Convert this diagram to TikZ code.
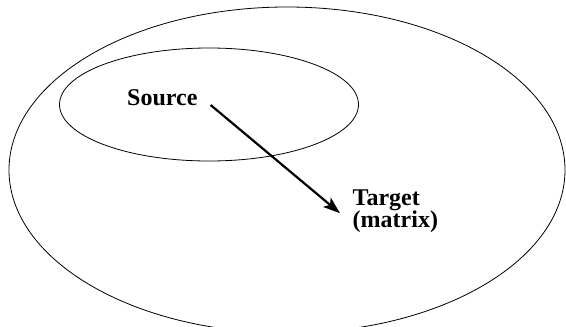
\documentclass[tikz,border=0pt]{standalone}
\usepackage{fontspec}
\setmainfont{Liberation Serif}
\usetikzlibrary{positioning, arrows.meta, shapes.geometric}
\tikzstyle{region} = [draw, ellipse, line width=0.8pt, inner sep=0pt]
\tikzstyle{setname} = [font=\fontsize{24}{22}\selectfont\bfseries, inner sep=0pt, align=left]
\tikzstyle{maparrow} = [-{Stealth[length=17pt, width=12pt, inset=4pt]}, line width=2.2pt]

\begin{document}
\begin{tikzpicture}[x=1pt, y=-1pt]
      \useasboundingbox (0,0) rectangle (566,327);
      \node[region, minimum width=556pt, minimum height=326pt] (outer) at (287,170) {};
      \node[region, minimum width=299pt, minimum height=113pt] (inner) at (209,104.5) {};
      \node[setname, anchor=base west] (src) at (127,105) {Source};
      % base of a two-line node is the last line
      \node[setname, anchor=base west] (tgt) at (352.5,227.7) {Target\\(matrix)};
      \draw[maparrow] ([shift={(13,0)}]src.base east) -- ([shift={(-12.5,-14.5)}]tgt.base west);
    \end{tikzpicture}
\end{document}
